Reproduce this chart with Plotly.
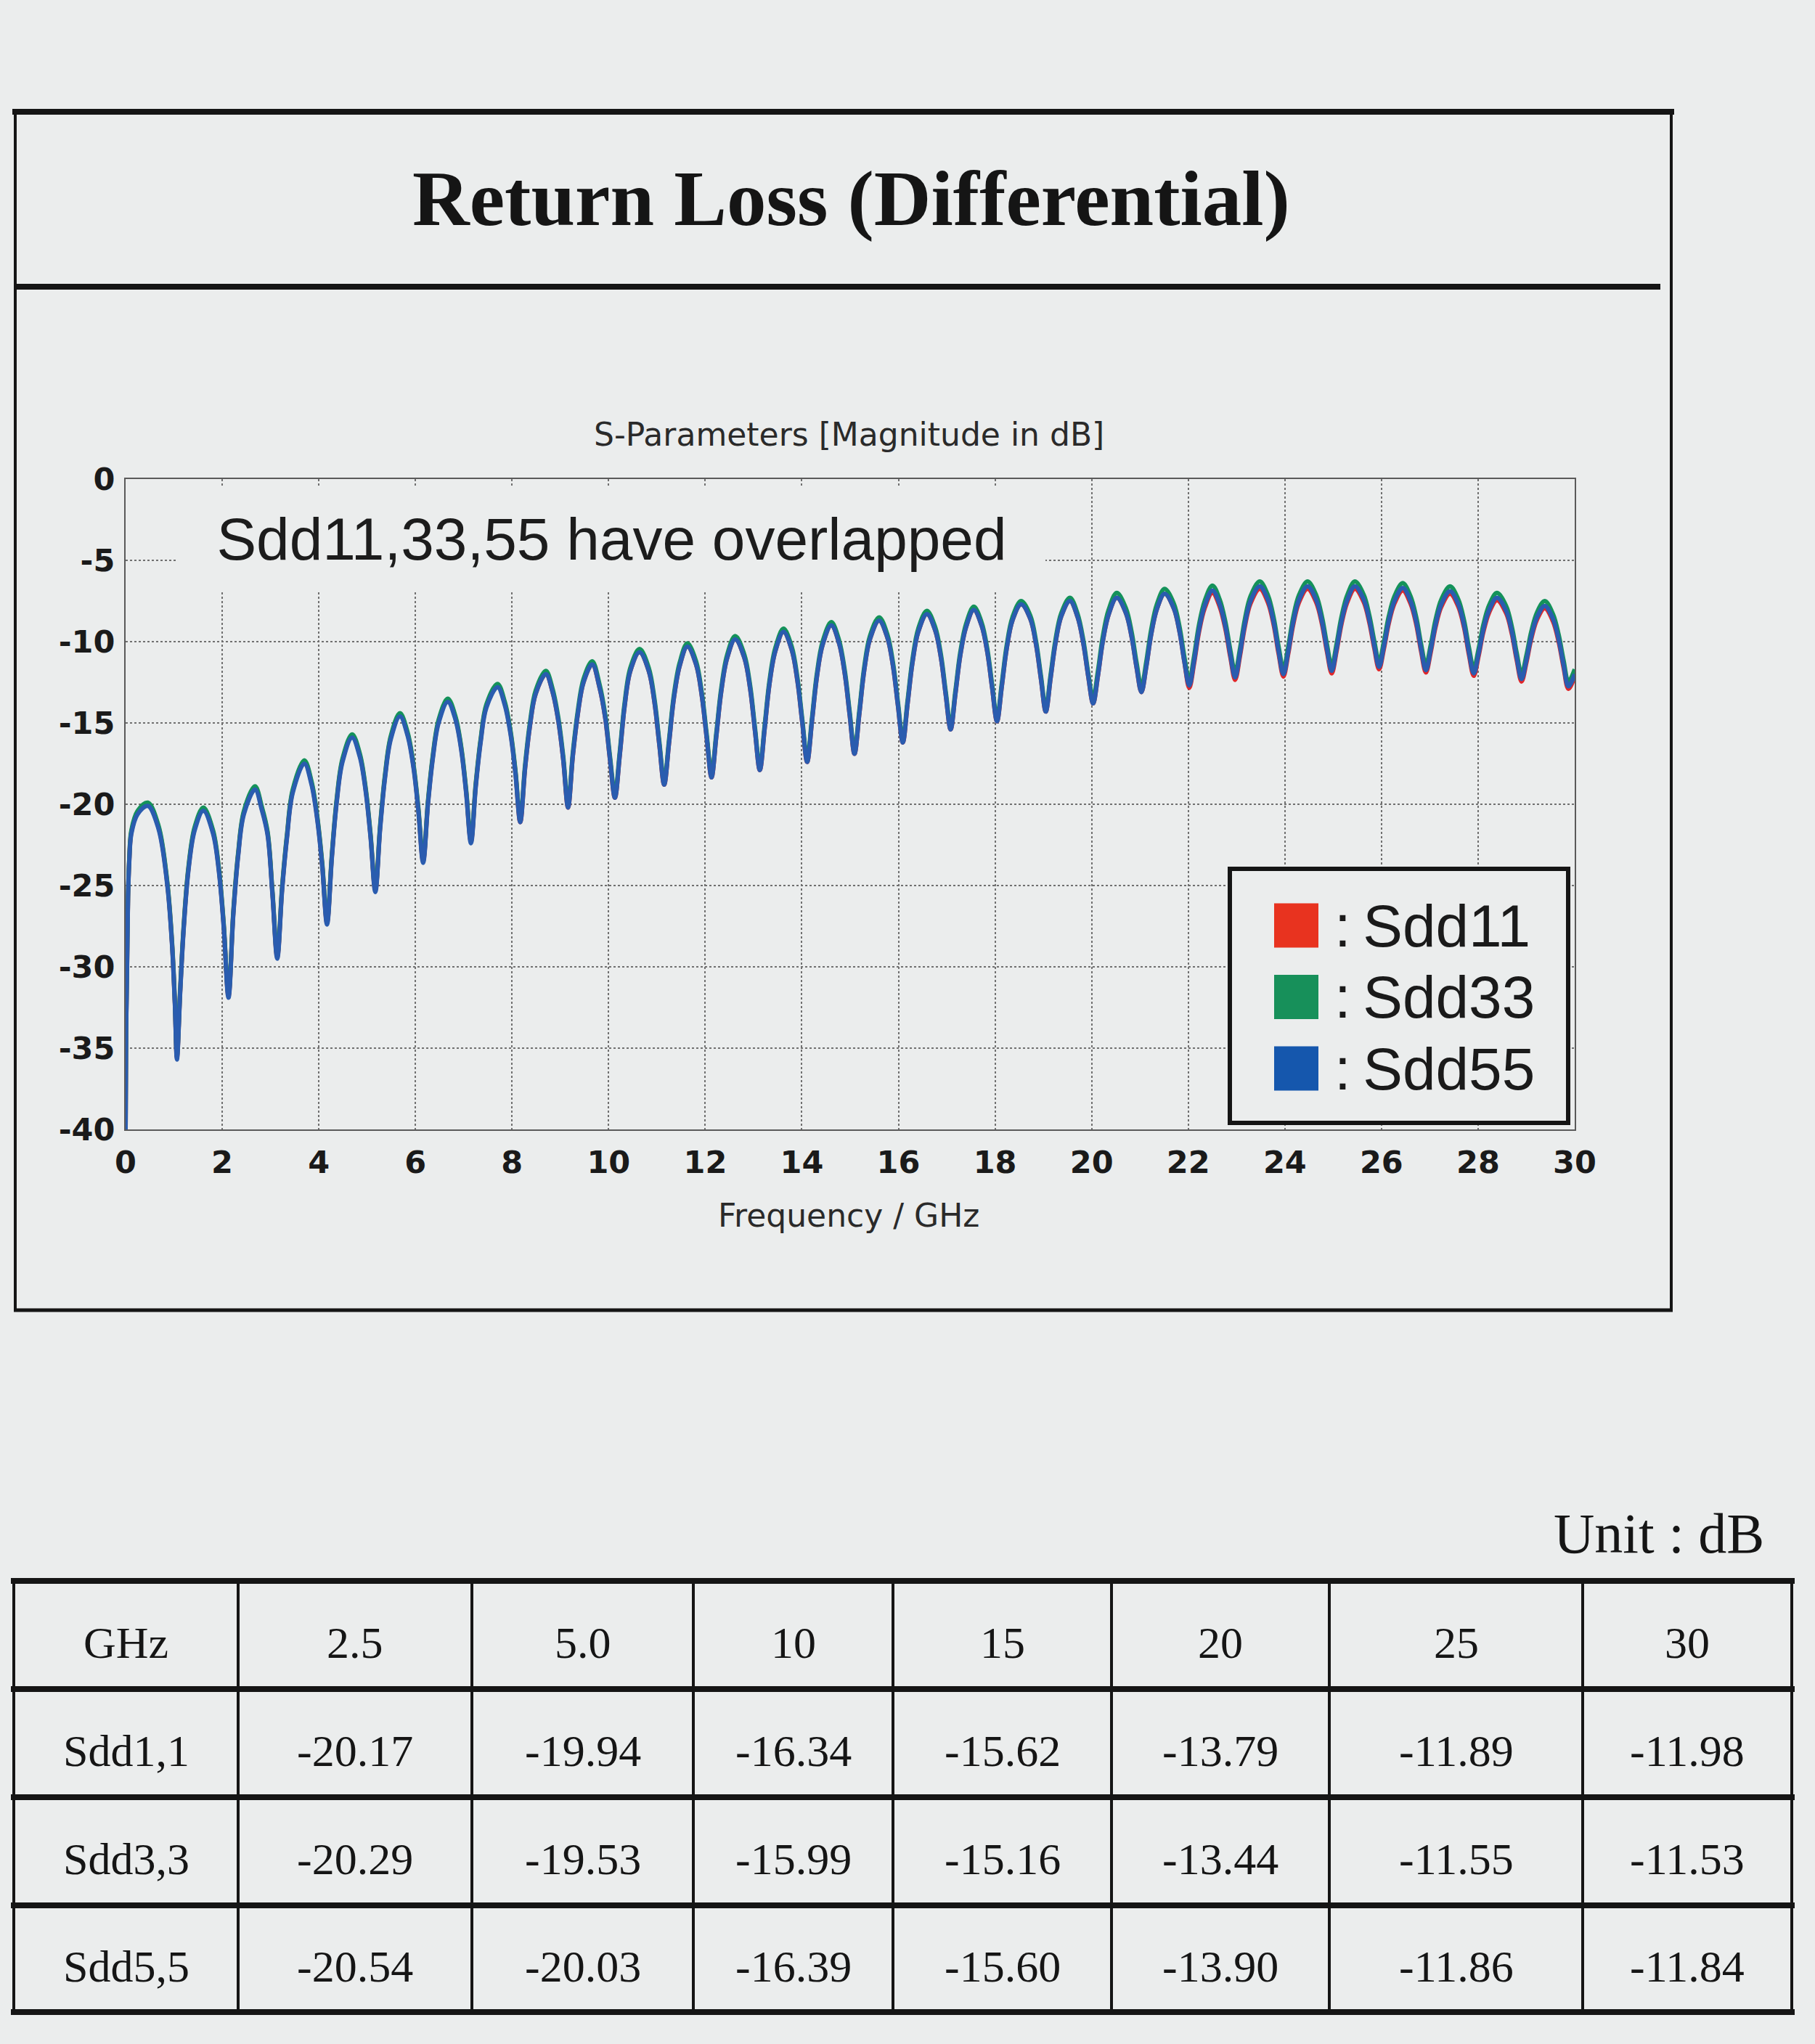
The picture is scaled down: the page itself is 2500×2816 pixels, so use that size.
import plotly.graph_objects as go

# ---------------- data ----------------
freq = [
    0.0, 0.01, 0.03, 0.05, 0.075, 0.12, 0.25, 0.46, 0.68, 0.86, 0.96, 1.02, 1.063,
    1.13, 1.2, 1.3, 1.43, 1.61, 1.81, 1.93, 2.03,
    2.13, 2.23, 2.33, 2.45, 2.68, 2.82, 2.94, 3.04,
    3.14, 3.24, 3.34, 3.46, 3.70, 3.85, 3.97, 4.07,
    4.17, 4.27, 4.37, 4.49, 4.69, 4.85, 4.97, 5.07,
    5.17, 5.27, 5.37, 5.49, 5.68, 5.84, 5.96, 6.06,
    6.16, 6.26, 6.36, 6.48, 6.67, 6.83, 6.95, 7.05,
    7.15, 7.25, 7.35, 7.47, 7.70, 7.85, 7.97, 8.07,
    8.17, 8.27, 8.37, 8.49, 8.70, 8.84, 8.96, 9.06,
    9.16, 9.26, 9.36, 9.48, 9.66, 9.81, 9.93, 10.03,
    10.13, 10.23, 10.33, 10.45, 10.64, 10.83, 10.95, 11.05,
    11.15, 11.25, 11.35, 11.47, 11.63, 11.81, 11.93, 12.03,
    12.13, 12.23, 12.33, 12.45, 12.62, 12.81, 12.93, 13.03,
    13.13, 13.23, 13.33, 13.45, 13.62, 13.79, 13.91, 14.01,
    14.11, 14.21, 14.31, 14.43, 14.61, 14.77, 14.89, 14.99,
    15.09, 15.19, 15.29, 15.41, 15.60, 15.77, 15.89, 15.99,
    16.09, 16.19, 16.29, 16.41, 16.59, 16.76, 16.88, 16.98,
    17.08, 17.18, 17.28, 17.40, 17.56, 17.72, 17.84, 17.94,
    18.04, 18.14, 18.24, 18.36, 18.54, 18.73, 18.85, 18.95,
    19.05, 19.15, 19.25, 19.37, 19.55, 19.71, 19.83, 19.93,
    20.03, 20.13, 20.23, 20.35, 20.52, 20.71, 20.83, 20.93,
    21.03, 21.13, 21.23, 21.35, 21.51, 21.70, 21.82, 21.92,
    22.02, 22.12, 22.22, 22.34, 22.50, 22.65, 22.77, 22.87,
    22.97, 23.07, 23.17, 23.29, 23.48, 23.65, 23.77, 23.87,
    23.97, 24.07, 24.17, 24.29, 24.47, 24.65, 24.77, 24.87,
    24.97, 25.07, 25.17, 25.29, 25.45, 25.63, 25.75, 25.85,
    25.95, 26.05, 26.15, 26.27, 26.44, 26.60, 26.72, 26.82,
    26.92, 27.02, 27.12, 27.24, 27.42, 27.59, 27.71, 27.81,
    27.91, 28.01, 28.11, 28.23, 28.39, 28.58, 28.70, 28.80,
    28.90, 29.00, 29.10, 29.22, 29.38, 29.55, 29.67, 29.77,
    29.87, 30.0,
]

sdd55 = [
    -40.0, -34.0, -30.0, -25.8, -23.6, -21.8, -20.6, -20.1, -21.5, -24.9, -28.6, -32.3, -35.7,
    -31.6, -27.8, -24.1, -21.6, -20.4, -21.8, -24.1, -27.5,
    -31.9, -26.8, -23.2, -20.6, -19.1, -20.35, -21.9, -25.55,
    -29.5, -25.3, -22.1, -19.3, -17.5, -18.8, -21.0, -23.8,
    -27.4, -23.3, -19.9, -17.4, -15.9, -17.1, -19.2, -22.0,
    -25.4, -21.5, -18.4, -16.0, -14.6, -15.8, -17.75, -20.4,
    -23.6, -20.0, -17.2, -15.0, -13.7, -14.8, -16.7, -19.3,
    -22.4, -18.9, -16.2, -14.05, -12.8, -13.9, -15.7, -18.1,
    -21.1, -17.8, -15.2, -13.2, -12.0, -13.1, -14.9, -17.25,
    -20.2, -17.0, -14.5, -12.5, -11.4, -12.8, -14.7, -17.3,
    -19.6, -17.0, -14.0, -11.8, -10.65, -11.8, -13.75, -16.35,
    -18.8, -16.25, -13.5, -11.5, -10.3, -11.4, -13.35, -15.9,
    -18.35, -15.8, -13.1, -11.05, -9.85, -11.0, -12.9, -15.5,
    -17.9, -15.35, -12.6, -10.6, -9.4, -10.5, -12.45, -15.0,
    -17.4, -14.9, -12.2, -10.2, -9.0, -10.1, -12.0, -14.5,
    -16.9, -14.45, -11.8, -9.85, -8.7, -9.75, -11.55, -13.95,
    -16.2, -13.8, -11.3, -9.4, -8.3, -9.3, -11.0, -13.3,
    -15.4, -13.2, -10.85, -9.1, -8.05, -9.0, -10.65, -12.85,
    -14.9, -12.75, -10.45, -8.7, -7.7, -8.6, -10.2, -12.3,
    -14.3, -12.25, -10.1, -8.45, -7.5, -8.5, -10.15, -12.15,
    -13.8, -12.1, -10.0, -8.35, -7.3, -8.25, -9.75, -11.6,
    -13.1, -11.55, -9.6, -8.0, -7.05, -7.95, -9.4, -11.25,
    -12.7, -11.2, -9.3, -7.8, -6.85, -7.7, -9.1, -10.8,
    -12.2, -10.75, -8.95, -7.5, -6.6, -7.45, -8.85, -10.6,
    -12.0, -10.6, -8.85, -7.45, -6.6, -7.45, -8.8, -10.45,
    -11.8, -10.45, -8.8, -7.45, -6.6, -7.4, -8.7, -10.25,
    -11.55, -10.3, -8.75, -7.5, -6.7, -7.5, -8.8, -10.45,
    -11.75, -10.5, -8.95, -7.7, -6.9, -7.7, -9.0, -10.65,
    -11.95, -10.75, -9.25, -8.05, -7.3, -8.1, -9.4, -11.0,
    -12.3, -11.15, -9.7, -8.5, -7.8, -8.6, -9.9, -11.45,
    -12.75, -12.0,
]

sdd33 = [
    -39.8, -33.8, -29.8, -25.6, -23.4, -21.6, -20.4, -19.9, -21.3, -24.7, -28.4, -32.1, -35.5,
    -31.4, -27.6, -23.9, -21.4, -20.2, -21.6, -23.9, -27.3,
    -31.7, -26.6, -23.0, -20.4, -18.9, -20.15, -21.7, -25.35,
    -29.3, -25.1, -21.9, -19.1, -17.3, -18.6, -20.8, -23.6,
    -27.2, -23.1, -19.7, -17.2, -15.7, -16.9, -19.0, -21.8,
    -25.2, -21.3, -18.2, -15.8, -14.4, -15.6, -17.55, -20.2,
    -23.4, -19.8, -17.0, -14.8, -13.5, -14.6, -16.5, -19.1,
    -22.2, -18.7, -16.0, -13.85, -12.6, -13.7, -15.5, -17.9,
    -20.9, -17.6, -15.0, -13.0, -11.8, -12.9, -14.7, -17.05,
    -20.0, -16.8, -14.3, -12.3, -11.2, -12.6, -14.5, -17.1,
    -19.4, -16.8, -13.8, -11.6, -10.45, -11.6, -13.55, -16.15,
    -18.6, -16.05, -13.3, -11.3, -10.1, -11.2, -13.15, -15.7,
    -18.15, -15.6, -12.9, -10.85, -9.65, -10.8, -12.7, -15.3,
    -17.7, -15.15, -12.4, -10.4, -9.2, -10.3, -12.25, -14.8,
    -17.2, -14.7, -12.0, -10.0, -8.8, -9.9, -11.8, -14.3,
    -16.7, -14.25, -11.6, -9.65, -8.5, -9.55, -11.35, -13.75,
    -16.0, -13.6, -11.1, -9.2, -8.1, -9.1, -10.8, -13.1,
    -15.2, -13.0, -10.65, -8.9, -7.85, -8.8, -10.45, -12.65,
    -14.7, -12.55, -10.25, -8.5, -7.5, -8.4, -10.0, -12.1,
    -14.1, -12.05, -9.9, -8.25, -7.3, -8.3, -9.95, -11.95,
    -13.5, -11.8, -9.7, -8.05, -7.0, -7.95, -9.45, -11.3,
    -12.8, -11.25, -9.3, -7.7, -6.75, -7.65, -9.1, -10.95,
    -12.4, -10.9, -9.0, -7.5, -6.55, -7.4, -8.8, -10.5,
    -11.9, -10.45, -8.65, -7.2, -6.3, -7.15, -8.55, -10.3,
    -11.7, -10.3, -8.55, -7.15, -6.3, -7.15, -8.5, -10.15,
    -11.5, -10.15, -8.5, -7.15, -6.3, -7.1, -8.4, -9.95,
    -11.25, -10.0, -8.45, -7.2, -6.4, -7.2, -8.5, -10.15,
    -11.45, -10.2, -8.65, -7.4, -6.6, -7.4, -8.7, -10.35,
    -11.65, -10.45, -8.95, -7.75, -7.0, -7.8, -9.1, -10.7,
    -12.0, -10.85, -9.4, -8.2, -7.5, -8.3, -9.6, -11.15,
    -12.45, -11.7,
]

sdd11 = [
    -39.9, -33.9, -29.9, -25.7, -23.5, -21.7, -20.5, -20.0, -21.4, -24.8, -28.5, -32.2, -35.6,
    -31.5, -27.7, -24.0, -21.5, -20.3, -21.7, -24.0, -27.4,
    -31.8, -26.7, -23.1, -20.5, -19.0, -20.25, -21.8, -25.45,
    -29.4, -25.2, -22.0, -19.2, -17.4, -18.7, -20.9, -23.7,
    -27.3, -23.2, -19.8, -17.3, -15.8, -17.0, -19.1, -21.9,
    -25.3, -21.4, -18.3, -15.9, -14.5, -15.7, -17.65, -20.3,
    -23.5, -19.9, -17.1, -14.9, -13.6, -14.7, -16.6, -19.2,
    -22.3, -18.8, -16.1, -13.95, -12.7, -13.8, -15.6, -18.0,
    -21.1, -17.8, -15.2, -13.2, -12.0, -13.1, -14.9, -17.25,
    -20.2, -17.0, -14.5, -12.5, -11.4, -12.8, -14.7, -17.3,
    -19.6, -17.0, -14.0, -11.8, -10.65, -11.8, -13.75, -16.35,
    -18.8, -16.25, -13.5, -11.5, -10.3, -11.4, -13.35, -15.9,
    -18.35, -15.8, -13.1, -11.05, -9.85, -11.0, -12.9, -15.5,
    -17.9, -15.35, -12.6, -10.6, -9.4, -10.5, -12.45, -15.0,
    -17.4, -14.9, -12.2, -10.2, -9.0, -10.1, -12.0, -14.5,
    -16.9, -14.45, -11.8, -9.85, -8.7, -9.75, -11.55, -13.95,
    -16.2, -13.8, -11.3, -9.4, -8.3, -9.3, -11.0, -13.3,
    -15.4, -13.2, -10.85, -9.1, -8.05, -9.0, -10.65, -12.85,
    -14.9, -12.75, -10.45, -8.7, -7.7, -8.6, -10.2, -12.3,
    -14.3, -12.25, -10.1, -8.45, -7.5, -8.5, -10.15, -12.15,
    -13.8, -12.1, -10.0, -8.35, -7.3, -8.25, -9.75, -11.6,
    -13.1, -11.55, -9.6, -8.0, -7.05, -7.95, -9.4, -11.25,
    -12.85, -11.35, -9.45, -7.95, -7.0, -7.85, -9.25, -10.95,
    -12.35, -10.9, -9.1, -7.65, -6.75, -7.6, -9.0, -10.75,
    -12.15, -10.75, -9.0, -7.6, -6.75, -7.6, -8.95, -10.6,
    -11.95, -10.6, -8.95, -7.6, -6.75, -7.55, -8.85, -10.4,
    -11.7, -10.45, -8.9, -7.65, -6.85, -7.65, -8.95, -10.6,
    -11.9, -10.65, -9.1, -7.85, -7.05, -7.85, -9.15, -10.8,
    -12.1, -10.9, -9.4, -8.2, -7.45, -8.25, -9.55, -11.15,
    -12.45, -11.3, -9.85, -8.65, -7.95, -8.75, -10.05, -11.6,
    -12.9, -12.15,
]

series_names = ["Sdd11", "Sdd33", "Sdd55"]

x_tick_vals = [0, 2, 4, 6, 8, 10, 12, 14, 16, 18, 20, 22, 24, 26, 28, 30]
x_tick_text = ["0", "2", "4", "6", "8", "10", "12", "14", "16", "18", "20", "22", "24", "26", "28", "30"]
y_tick_vals = [0, -5, -10, -15, -20, -25, -30, -35, -40]
y_tick_text = ["0", "-5", "-10", "-15", "-20", "-25", "-30", "-35", "-40"]

table_header = ["GHz", "2.5", "5.0", "10", "15", "20", "25", "30"]
table_row_labels = ["Sdd1,1", "Sdd3,3", "Sdd5,5"]
tbl_sdd11 = [-20.17, -19.94, -16.34, -15.62, -13.79, -11.89, -11.98]
tbl_sdd33 = [-20.29, -19.53, -15.99, -15.16, -13.44, -11.55, -11.53]
tbl_sdd55 = [-20.54, -20.03, -16.39, -15.60, -13.90, -11.86, -11.84]

# ---------------- styling / layout ----------------
W, H = 2500, 2816
BG = "#EBEDED"
INK = "#151515"
PL, PR, PT, PB = 173, 2169, 660, 1556

def px(X):
    return (X - PL) / (PR - PL)

def py(Y):
    return (PB - Y) / (PB - PT)

colors = {"Sdd11": "#E0262A", "Sdd33": "#14925A", "Sdd55": "#2A5CAF"}
swatch = {"Sdd11": "#E8331F", "Sdd33": "#17905A", "Sdd55": "#1557AD"}

fig = go.Figure()
for name, vals in zip(series_names, [sdd11, sdd33, sdd55]):
    fig.add_trace(go.Scatter(
        x=freq, y=vals, mode="lines", name=name,
        line=dict(color=colors[name], width=6, shape="spline", smoothing=1.0),
        showlegend=False, hoverinfo="skip",
    ))

shapes = []
annotations = []

def hline(x0, x1, y, w):
    shapes.append(dict(type="line", xref="paper", yref="paper",
                       x0=px(x0), x1=px(x1), y0=py(y), y1=py(y),
                       line=dict(color=INK, width=w), layer="above"))

def vline(x, y0, y1, w):
    shapes.append(dict(type="line", xref="paper", yref="paper",
                       x0=px(x), x1=px(x), y0=py(y0), y1=py(y1),
                       line=dict(color=INK, width=w), layer="above"))

def text(X, Y, s, size, family, color=INK, xanchor="center", weight="normal", **kw):
    annotations.append(dict(xref="paper", yref="paper", x=px(X), y=py(Y), text=s,
                            showarrow=False, xanchor=xanchor, yanchor="middle",
                            font=dict(family=family, size=size, color=color, weight=weight), **kw))

# outer chart frame
hline(17, 2306, 154, 8)
hline(19, 2287, 395, 8)
hline(19, 2304, 1805, 5)
vline(21, 150, 1807, 4)
vline(2302, 150, 1807, 4)

text(1172, 273, "Return Loss (Differential)", 109, "Liberation Serif", weight="bold")
text(1169, 598, "S-Parameters [Magnitude in dB]", 44, "DejaVu Sans", color="#2a2a2a")
text(1169, 1674, "Frequency / GHz", 44, "DejaVu Sans", color="#2a2a2a")

# in-plot note with opaque background hiding the grid behind it
annotations.append(dict(xref="paper", yref="paper", x=px(842), y=py(742),
                        text="Sdd11,33,55 have overlapped", showarrow=False,
                        xanchor="center", yanchor="middle", width=1195, height=144,
                        bgcolor=BG, borderwidth=0, borderpad=0,
                        font=dict(family="Liberation Sans", size=82, color="#1c1c1c")))

# custom legend
shapes.append(dict(type="rect", xref="paper", yref="paper",
                   x0=px(1694), x1=px(2160), y0=py(1197), y1=py(1547),
                   fillcolor=BG, line=dict(color=INK, width=6), layer="above"))
for i, name in enumerate(series_names):
    yc = 1275 + i * 98.5
    shapes.append(dict(type="rect", xref="paper", yref="paper",
                       x0=px(1755), x1=px(1816), y0=py(yc - 30.5), y1=py(yc + 30.5),
                       fillcolor=swatch[name], line=dict(width=0), layer="above"))
    text(1836, yc, ":\u2009" + name, 82, "Liberation Sans", color="#1a1a1a", xanchor="left")

# table
text(2432, 2112, "Unit : dB", 78, "Liberation Serif", xanchor="right")
col_x = [19, 328, 650, 955, 1230, 1531, 1831, 2180, 2468]
row_y = [2178, 2327, 2476, 2625, 2772]
for yy in row_y:
    hline(15, 2472, yy, 8)
for xx in col_x:
    vline(xx, row_y[0], row_y[-1], 4)

def cell_center(ci, ri):
    return (col_x[ci] + col_x[ci + 1]) / 2, (row_y[ri] + row_y[ri + 1]) / 2 + 10

for ci, h in enumerate(table_header):
    cx, cy = cell_center(ci, 0)
    text(cx, cy, h, 62, "Liberation Serif")
for ri, (lab, vals) in enumerate(zip(table_row_labels, [tbl_sdd11, tbl_sdd33, tbl_sdd55])):
    cx, cy = cell_center(0, ri + 1)
    text(cx, cy, lab, 62, "Liberation Serif")
    for ci, v in enumerate(vals):
        cx, cy = cell_center(ci + 1, ri + 1)
        text(cx, cy, f"{v:.2f}", 62, "Liberation Serif")

axis_common = dict(
    showline=True, mirror=True, linecolor="#5a5a5a", linewidth=2,
    showgrid=True, gridcolor="#707070", griddash="dot", gridwidth=2,
    zeroline=False, ticks="",
    tickfont=dict(family="DejaVu Sans", size=43, color="#1a1a1a", weight="bold"),
)

fig.update_layout(
    width=W, height=H, autosize=False,
    paper_bgcolor=BG, plot_bgcolor=BG,
    margin=dict(l=PL, r=W - PR, t=PT, b=H - PB, pad=0),
    xaxis=dict(range=[0, 30], tickmode="array", tickvals=x_tick_vals, ticktext=x_tick_text,
               ticklabelstandoff=6, **axis_common),
    yaxis=dict(range=[-40, 0], tickmode="array", tickvals=y_tick_vals, ticktext=y_tick_text,
               ticklabelstandoff=4, **axis_common),
    shapes=shapes, annotations=annotations, showlegend=False,
)

fig.write_html("out.html")
